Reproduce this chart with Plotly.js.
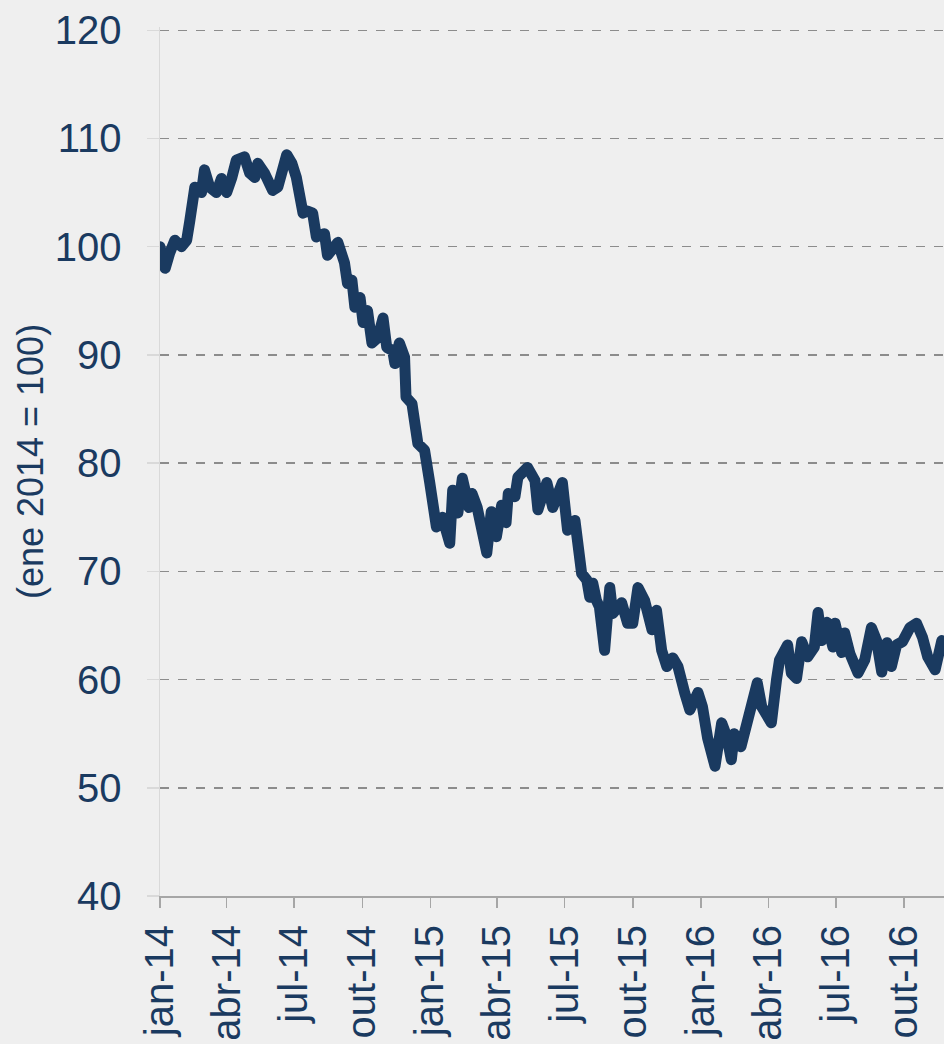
<!DOCTYPE html>
<html>
<head>
<meta charset="utf-8">
<script src="https://cdn.plot.ly/plotly-3.0.1.min.js"></script>
<style>
  html, body { margin: 0; padding: 0; background: #efefef; }
  #chart { width: 944px; height: 1044px; }
  path.js-line { stroke-linejoin: round; stroke-linecap: round; }
</style>
</head>
<body>
<div id="chart"></div>
<script>
var dates = [
  "2014-01-01","2014-01-08","2014-01-14","2014-01-21","2014-01-30","2014-02-06","2014-02-10","2014-02-17",
  "2014-02-26","2014-03-02","2014-03-09","2014-03-18","2014-03-25","2014-04-01","2014-04-08","2014-04-14",
  "2014-04-25","2014-05-02","2014-05-09","2014-05-13","2014-05-22","2014-06-02","2014-06-09","2014-06-14",
  "2014-06-21","2014-06-28","2014-07-04","2014-07-13","2014-07-19","2014-07-26","2014-07-31","2014-08-11",
  "2014-08-15","2014-08-29","2014-09-07","2014-09-11","2014-09-17","2014-09-21","2014-09-28","2014-10-02",
  "2014-10-08","2014-10-14","2014-10-22","2014-10-29","2014-11-03","2014-11-11","2014-11-14","2014-11-20",
  "2014-11-27","2014-11-29","2014-12-07","2014-12-15","2014-12-24","2014-12-31","2015-01-09","2015-01-17",
  "2015-01-27","2015-01-31","2015-02-07","2015-02-13","2015-02-22","2015-02-26","2015-03-05","2015-03-18",
  "2015-03-24","2015-03-31","2015-04-07","2015-04-13","2015-04-16","2015-04-25","2015-04-29","2015-05-12",
  "2015-05-22","2015-05-26","2015-06-07","2015-06-15","2015-06-28","2015-07-05","2015-07-15","2015-07-24",
  "2015-07-31","2015-08-04","2015-08-08","2015-08-13","2015-08-17","2015-08-24","2015-08-31","2015-09-04",
  "2015-09-16","2015-09-24","2015-10-01","2015-10-08","2015-10-17","2015-10-27","2015-11-02","2015-11-09",
  "2015-11-16","2015-11-24","2015-12-01","2015-12-10","2015-12-17","2015-12-28","2016-01-03","2016-01-10",
  "2016-01-20","2016-01-29","2016-02-05","2016-02-11","2016-02-15","2016-02-24","2016-03-04","2016-03-09",
  "2016-03-17","2016-03-23","2016-04-05","2016-04-12","2016-04-16","2016-04-27","2016-05-02","2016-05-09",
  "2016-05-16","2016-05-24","2016-06-02","2016-06-07","2016-06-12","2016-06-19","2016-06-27","2016-06-30",
  "2016-07-09","2016-07-13","2016-07-20","2016-07-31","2016-08-09","2016-08-18","2016-08-25","2016-09-01",
  "2016-09-08","2016-09-14","2016-09-21","2016-09-29","2016-10-09","2016-10-18","2016-10-26","2016-11-02",
  "2016-11-12","2016-11-21"
];

var index = [
  100.0, 98.0, 99.4, 100.6, 100.0, 100.6, 102.3, 105.5,
  105.0, 107.1, 105.5, 105.0, 106.3, 105.0, 106.4, 108.0,
  108.3, 106.8, 106.4, 107.7, 106.8, 105.2, 105.5, 106.9,
  108.5, 107.7, 106.4, 103.1, 103.3, 103.1, 100.9, 101.2,
  99.2, 100.4, 98.5, 96.6, 96.9, 94.4, 95.3, 93.0,
  94.1, 91.1, 91.6, 93.4, 90.7, 90.4, 89.2, 91.1,
  89.8, 86.1, 85.5, 81.8, 81.2, 78.2, 74.1, 75.0,
  72.6, 77.5, 75.4, 78.6, 75.9, 77.2, 75.9, 71.7,
  75.5, 73.2, 76.1, 74.5, 77.2, 76.9, 78.7, 79.6,
  78.4, 75.7, 78.2, 75.9, 78.2, 73.8, 74.7, 69.8,
  69.2, 67.6, 68.9, 67.3, 66.7, 62.7, 68.5, 66.1,
  67.1, 65.2, 65.2, 68.5, 67.3, 64.6, 66.4, 62.7,
  61.2, 62.0, 61.2, 58.8, 57.2, 58.8, 57.5, 54.6,
  52.0, 56.0, 54.7, 52.6, 55.0, 53.8, 56.0, 58.1,
  59.7, 57.5, 56.0, 60.0, 61.8, 63.2, 60.6, 60.1,
  63.5, 62.1, 63.0, 66.2, 63.6, 65.3, 63.0, 65.2,
  62.5, 64.3, 62.4, 60.6, 61.8, 64.8, 63.6, 60.7,
  63.4, 61.2, 63.2, 63.5, 64.8, 65.2, 63.9, 62.1,
  60.9, 63.6
];

var tickDates = ["2014-01-01","2014-04-01","2014-07-01","2014-10-01","2015-01-01","2015-04-01",
                 "2015-07-01","2015-10-01","2016-01-01","2016-04-01","2016-07-01","2016-10-01"];
var tickLabels = ["jan-14","abr-14","jul-14","out-14","jan-15","abr-15",
                  "jul-15","out-15","jan-16","abr-16","jul-16","out-16"];
var yTicks = [40, 50, 60, 70, 80, 90, 100, 110, 120];

var navy = "#1a3a60";
var font = "Liberation Sans, Arial, sans-serif";

var trace = {
  x: dates,
  y: index,
  type: "scatter",
  mode: "lines",
  line: { color: navy, width: 11 },
  hoverinfo: "skip"
};

var layout = {
  width: 944,
  height: 1044,
  margin: { l: 160, r: 0, t: 27, b: 148 },
  paper_bgcolor: "#efefef",
  plot_bgcolor: "#efefef",
  showlegend: false,
  font: { family: font, color: navy },
  xaxis: {
    type: "date",
    range: ["2014-01-01", "2016-11-24"],
    tickvals: tickDates,
    ticktext: tickLabels,
    tickangle: -90,
    tickfont: { size: 40, color: navy },
    ticks: "outside",
    ticklen: 10,
    tickwidth: 1.5,
    tickcolor: "#a6a6a6",
    ticklabelstandoff: 1,
    showgrid: false,
    showline: true,
    linecolor: "#a6a6a6",
    linewidth: 2,
    zeroline: false,
    automargin: false,
    fixedrange: true
  },
  yaxis: {
    range: [40, 120.3],
    tickvals: yTicks,
    tickfont: { size: 40, color: navy },
    ticks: "outside",
    ticklen: 12,
    tickwidth: 1.5,
    tickcolor: "#d9d9d9",
    ticklabelstandoff: 17,
    showgrid: true,
    gridcolor: "#8c8c8c",
    gridwidth: 1.5,
    griddash: "dash",
    showline: true,
    linecolor: "#d9d9d9",
    linewidth: 1.5,
    zeroline: false,
    automargin: false,
    title: {
      text: "(ene 2014 = 100)",
      font: { size: 36, color: navy, family: font },
      standoff: 0
    },
    fixedrange: true
  }
};

Plotly.newPlot("chart", [trace], layout, { staticPlot: true, displayModeBar: false });
</script>
</body>
</html>
